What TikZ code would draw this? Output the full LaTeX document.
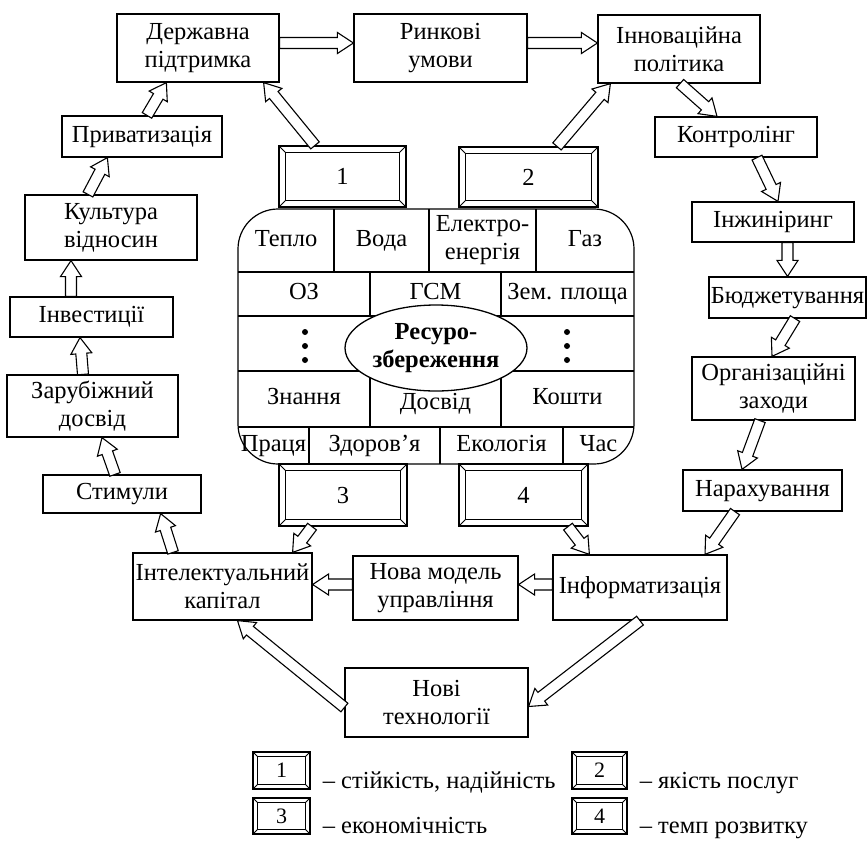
\documentclass[tikz,border=0pt]{standalone}
\usepackage{fontspec}
\setmainfont{Liberation Serif}
\usetikzlibrary{calc,positioning,shapes.geometric}
\newcommand{\mainsize}{\fontsize{24.5}{28}\selectfont}
\newcommand{\numsize}{\fontsize{22}{24}\selectfont}
\tikzset{
  boxn/.style={draw, line width=1.2pt, inner sep=0pt, align=center, font=\mainsize},
  oneline/.style={text height=17pt, text depth=5.5pt},
  bevelbox/.style={draw, line width=1.2pt, inner sep=0pt, font=\mainsize},
  bevelln/.style={line width=1pt},
  cellt/.style={inner sep=0pt, align=center, font=\mainsize},
  arrowln/.style={draw, fill=white, line width=1.1pt, line join=miter},
  legendt/.style={anchor=base west, inner sep=0pt, font=\mainsize},
}
% hollow block arrow from #1 to #2
\newcommand{\hollowarrow}[2]{%
  \draw[arrowln] let \p1=#1, \p2=#2,
    \n1={atan2(\y2-\y1,\x2-\x1)}, \n2={veclen(\x2-\x1,\y2-\y1)} in
    [shift={(\p1)}, rotate=\n1]
    (0pt,5.5pt) -- ({\n2*1pt-16pt},5.5pt) -- ({\n2*1pt-16pt},10.5pt)
    -- ({\n2*1pt},0pt) -- ({\n2*1pt-16pt},-10.5pt) -- ({\n2*1pt-16pt},-5.5pt)
    -- (0pt,-5.5pt) -- cycle;
}
% inner frame and corner bevels of a framed box
\newcommand{\bevelframe}[2]{%
  \draw[bevelln] ([shift={(#2,-#2)}]#1.north west) rectangle ([shift={(-#2,#2)}]#1.south east);
  \draw[bevelln] (#1.north west) -- ++(#2,-#2) (#1.north east) -- ++(-#2,-#2)
    (#1.south east) -- ++(-#2,#2) (#1.south west) -- ++(#2,#2);
}

\begin{document}
\begin{tikzpicture}[x=1pt, y=-1pt]
  \useasboundingbox (0,0) rectangle (867,841);
  % Top row
  \node[boxn, minimum width=162pt, minimum height=68pt] (dp) at (198,48) {Державна\\підтримка};
  \node[boxn, minimum width=173pt, minimum height=68pt] (ry) at (440.5,48) {Ринкові\\умови};
  \node[boxn, minimum width=162pt, minimum height=68pt] (ip) at (679,49) {Інноваційна\\політика};
  % Left column
  \node[boxn, oneline, minimum width=160pt, minimum height=41pt] (pr) at (142,136.5) {Приватизація};
  \node[boxn, minimum width=172pt, minimum height=65pt] (kv) at (111,227.5) {Культура\\відносин};
  \node[boxn, oneline, minimum width=163pt, minimum height=40pt] (inv) at (91.5,317) {Інвестиції};
  \node[boxn, minimum width=171pt, minimum height=62pt] (zd) at (92.5,406) {Зарубіжний\\досвід};
  \node[boxn, oneline, minimum width=158pt, minimum height=38pt] (st) at (122,494) {Стимули};
  % Right column
  \node[boxn, oneline, minimum width=162pt, minimum height=40pt] (kt) at (736,137) {Контролінг};
  \node[boxn, oneline, minimum width=162pt, minimum height=40pt] (ing) at (773,222) {Інжиніринг};
  \node[boxn, oneline, minimum width=157pt, minimum height=41pt] (bud) at (787.5,297.5) {Бюджетування};
  \node[boxn, minimum width=163pt, minimum height=63pt] (org) at (773.5,388.5) {Організаційні\\заходи};
  \node[boxn, oneline, minimum width=159pt, minimum height=41pt] (nar) at (762.5,490.5) {Нарахування};
  % Bottom row
  \node[boxn, minimum width=179pt, minimum height=67pt] (ik) at (222.5,586.5) {Інтелектуальний\\капітал};
  \node[boxn, minimum width=165pt, minimum height=64pt] (nm) at (435.5,588) {Нова модель\\управління};
  \node[boxn, oneline, minimum width=174pt, minimum height=65pt] (inf) at (640,587.5) {Інформатизація};
  \node[boxn, minimum width=183pt, minimum height=69pt] (nt) at (436.5,702.5) {Нові\\технології};
  % Resource table
  \node[draw, line width=1.2pt, rounded corners=40pt, minimum width=396pt, minimum height=255pt] (tbl) at (436,336.5) {};
  \draw[line width=1.1pt] (238,272) -- (634,272) (238,316) -- (634,316)
    (238,371) -- (634,371) (238,427) -- (634,427);
  \draw[line width=1.1pt] (334,209) -- (334,272) (429,209) -- (429,272) (536,209) -- (536,272)
    (370,272) -- (370,316) (501,272) -- (501,316)
    (370,371) -- (370,427) (501,371) -- (501,427)
    (309,427) -- (309,464) (440,427) -- (440,464) (563,427) -- (563,464);
  \node[cellt, oneline] (teplo) at (286,240.5) {Тепло};
  \node[cellt, oneline] (voda) at (381.5,240.5) {Вода};
  \node[cellt] (elen) at (482.5,240.5) {Електро-\\енергія};
  \node[cellt, oneline] (gaz) at (585,240.5) {Газ};
  \node[cellt, oneline] (oz) at (304,294) {ОЗ};
  \node[cellt, oneline] (gsm) at (435.5,294) {ГСМ};
  \node[cellt, oneline] (zem) at (567.5,294) {Зем. площа};
  \node[cellt, oneline] (znan) at (304,399) {Знання};
  \node[cellt, oneline] (dosv) at (435.5,404) {Досвід};
  \node[cellt, oneline] (kosh) at (567.5,399) {Кошти};
  \node[cellt, oneline] (prac) at (273.5,445.5) {Праця};
  \node[cellt, oneline] (zdor) at (374.5,445.5) {Здоров’я};
  \node[cellt, oneline] (ekol) at (501.5,445.5) {Екологія};
  \node[cellt, oneline] (chas) at (598.5,445.5) {Час};
  \fill (305,332) circle (3pt) (305,346) circle (3pt) (305,360) circle (3pt);
  \fill (567,332) circle (3pt) (567,346) circle (3pt) (567,360) circle (3pt);
  \node[ellipse, draw, fill=white, line width=1.3pt, inner sep=0pt, minimum width=182pt,
    minimum height=86pt, align=center, font=\mainsize\bfseries] (rz) at (436,348) {Ресуро-\\збереження};
  % Framed boxes 1-4
  \node[bevelbox, minimum width=127pt, minimum height=61pt] (b1) at (342.5,176.5) {1};
  \node[bevelbox, minimum width=139pt, minimum height=60pt] (b2) at (528.5,177) {2};
  \node[bevelbox, minimum width=128pt, minimum height=62pt] (b3) at (343,495) {3};
  \node[bevelbox, minimum width=129pt, minimum height=62pt] (b4) at (523.5,495) {4};
  \bevelframe{b1}{7.5pt}
  \bevelframe{b2}{7.5pt}
  \bevelframe{b3}{7.5pt}
  \bevelframe{b4}{7.5pt}
  % Arrows
  \hollowarrow{($(dp.east)+(0,-5)$)}{($(ry.west)+(0,-5)$)}
  \hollowarrow{($(ry.east)+(0,-5)$)}{($(ip.west)+(0,-6)$)}
  \hollowarrow{($(b1.north)+(-27.5,0)$)}{($(dp.south east)+(-16,0)$)}
  \hollowarrow{($(b2.north)+(28.5,0)$)}{($(ip.south west)+(13,0)$)}
  \hollowarrow{($(pr.north)+(5,0)$)}{($(dp.south west)+(50,0)$)}
  \hollowarrow{($(kv.north)+(-23,0)$)}{($(pr.south west)+(46,0)$)}
  \hollowarrow{($(inv.north)+(-20.5,0)$)}{($(kv.south)+(-40,0)$)}
  \hollowarrow{($(zd.north)+(-9.5,0)$)}{($(inv.south)+(-11.5,0)$)}
  \hollowarrow{($(st.north)+(-7,0)$)}{($(zd.south)+(9.5,0)$)}
  \hollowarrow{($(ik.north)+(-49.5,0)$)}{($(st.south east)+(-41,0)$)}
  \hollowarrow{($(b3.south)+(-31,0)$)}{($(ik.north east)+(-20,0)$)}
  \hollowarrow{($(b4.south)+(44.5,0)$)}{($(inf.north west)+(37,0)$)}
  \hollowarrow{($(ip.south)+(1,0)$)}{($(kt.north)+(-19,0)$)}
  \hollowarrow{($(kt.south)+(21,0)$)}{($(ing.north)+(5,0)$)}
  \hollowarrow{($(ing.south)+(14.5,0)$)}{(bud.north)}
  \hollowarrow{($(bud.south)+(7.5,0)$)}{($(org.north)+(-1.5,0)$)}
  \hollowarrow{($(org.south)+(-13.5,0)$)}{($(nar.north)+(-20.5,0)$)}
  \hollowarrow{($(nar.south)+(-27.5,0)$)}{($(inf.north)+(65,0)$)}
  \hollowarrow{($(inf.west)+(0,-3)$)}{($(nm.east)+(0,-3.5)$)}
  \hollowarrow{($(nm.west)+(0,-3.5)$)}{($(ik.east)+(0,-2)$)}
  \hollowarrow{(inf.south)}{($(nt.east)+(0,4)$)}
  \hollowarrow{($(nt.west)+(0,5)$)}{($(ik.south)+(15,0)$)}
  % Legend
  \node[bevelbox, font=\numsize, minimum width=57pt, minimum height=37pt] (l1) at (281.5,770.5) {1};
  \node[bevelbox, font=\numsize, minimum width=55pt, minimum height=37pt] (l2) at (599.5,770.5) {2};
  \node[bevelbox, font=\numsize, minimum width=57pt, minimum height=36pt] (l3) at (281.5,816) {3};
  \node[bevelbox, font=\numsize, minimum width=55pt, minimum height=36pt] (l4) at (599.5,816) {4};
  \bevelframe{l1}{5pt}
  \bevelframe{l2}{5pt}
  \bevelframe{l3}{5pt}
  \bevelframe{l4}{5pt}
  \node[legendt] (t1) at ($(l1.south east)+(12,-1)$) {– стійкість, надійність};
  \node[legendt] (t2) at ($(l2.south east)+(12,-1)$) {– якість послуг};
  \node[legendt] (t3) at ($(l3.south east)+(12,-1)$) {– економічність};
  \node[legendt] (t4) at ($(l4.south east)+(12,-1)$) {– темп розвитку};
\end{tikzpicture}
\end{document}
